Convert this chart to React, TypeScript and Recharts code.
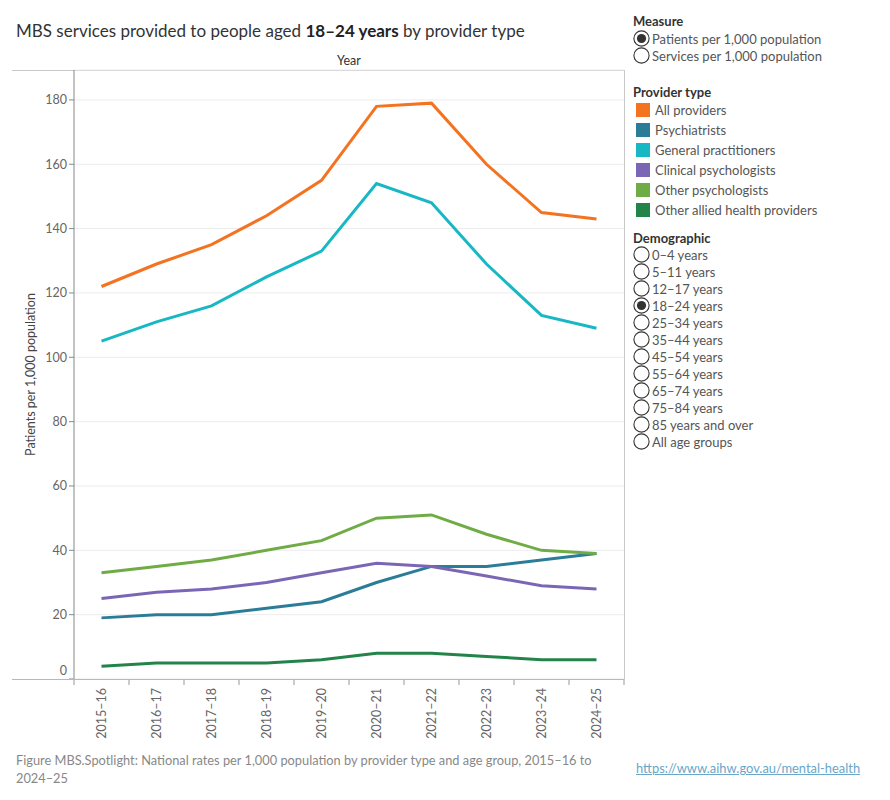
import React from "react";
import { LineChart, Line, XAxis, YAxis, CartesianGrid } from "recharts";

const years = [
  "2015–16", "2016–17", "2017–18", "2018–19", "2019–20",
  "2020–21", "2021–22", "2022–23", "2023–24", "2024–25",
];
const allProviders = [122, 129, 135, 144, 155, 178, 179, 160, 145, 143];
const psychiatrists = [19, 20, 20, 22, 24, 30, 35, 35, 37, 39];
const generalPractitioners = [105, 111, 116, 125, 133, 154, 148, 129, 113, 109];
const clinicalPsychologists = [25, 27, 28, 30, 33, 36, 35, 32, 29, 28];
const otherPsychologists = [33, 35, 37, 40, 43, 50, 51, 45, 40, 39];
const otherAllied = [4, 5, 5, 5, 6, 8, 8, 7, 6, 6];
const yTicks = [0, 20, 40, 60, 80, 100, 120, 140, 160, 180];

const measures = ["Patients per 1,000 population", "Services per 1,000 population"];
const demographics = [
  "0–4 years", "5–11 years", "12–17 years", "18–24 years", "25–34 years",
  "35–44 years", "45–54 years", "55–64 years", "65–74 years", "75–84 years",
  "85 years and over", "All age groups",
];

const series = [
  { key: "all", name: "All providers", color: "#f47321", values: allProviders },
  { key: "psy", name: "Psychiatrists", color: "#2b7d97", values: psychiatrists },
  { key: "gp", name: "General practitioners", color: "#17b8c4", values: generalPractitioners },
  { key: "clin", name: "Clinical psychologists", color: "#7b66b6", values: clinicalPsychologists },
  { key: "oth", name: "Other psychologists", color: "#6fac45", values: otherPsychologists },
  { key: "allied", name: "Other allied health providers", color: "#23844a", values: otherAllied },
];

const data = years.map((y, i) => {
  const row: Record<string, string | number> = { year: y };
  series.forEach((s) => (row[s.key] = s.values[i]));
  return row;
});

const FONT = "Lato, 'Open Sans', sans-serif";
const PLOT_LEFT = 74;
const PLOT_RIGHT = 624;
const PLOT_TOP = 70;
const PLOT_BOTTOM = 679;
const BAND = (PLOT_RIGHT - PLOT_LEFT) / years.length;

function XTick(props: any) {
  const { x, payload, index } = props;
  const left = x - BAND / 2;
  return (
    <g>
      <line x1={left} x2={left} y1={PLOT_BOTTOM} y2={PLOT_BOTTOM + 6} stroke="#999" />
      {index === years.length - 1 && (
        <line x1={x + BAND / 2} x2={x + BAND / 2} y1={PLOT_BOTTOM} y2={PLOT_BOTTOM + 6} stroke="#999" />
      )}
      <text
        x={x}
        y={PLOT_BOTTOM + 9}
        transform={`rotate(-90 ${x} ${PLOT_BOTTOM + 9})`}
        textAnchor="end"
        dominantBaseline="central"
        fontSize={12.5}
        fill="#666"
        fontFamily={FONT}
      >
        {payload.value}
      </text>
    </g>
  );
}

function YTick(props: any) {
  const { x, y, payload } = props;
  return (
    <text
      x={x}
      y={payload.value === 0 ? y - 9 : y}
      textAnchor="end"
      dominantBaseline="central"
      fontSize={12.5}
      fill="#666"
      fontFamily={FONT}
    >
      {payload.value}
    </text>
  );
}

function Radio({ checked }: { checked: boolean }) {
  return (
    <svg width={17} height={17} style={{ display: "block", flex: "none" }}>
      <circle cx={8.5} cy={8.5} r={7.6} fill="#fff" stroke="#333" strokeWidth={1.1} />
      {checked && <circle cx={8.5} cy={8.5} r={4.6} fill="#333" />}
    </svg>
  );
}

const headStyle: React.CSSProperties = {
  position: "absolute",
  left: 633,
  fontSize: 13,
  fontWeight: 700,
  color: "#333",
  fontFamily: FONT,
  lineHeight: "16px",
};
const itemText: React.CSSProperties = {
  fontSize: 13,
  color: "#555",
  fontFamily: FONT,
  marginLeft: 2,
  whiteSpace: "nowrap",
};

export default function App() {
  return (
    <div style={{ position: "absolute", left: 0, top: 0, width: 890, height: 800, background: "#fff", fontFamily: FONT }}>
      <div style={{ position: "absolute", left: 16, top: 20, fontSize: 17, color: "#333", whiteSpace: "nowrap" }}>
        MBS services provided to people aged <b style={{ color: "#222" }}>18–24 years</b> by provider type
      </div>
      <div style={{ position: "absolute", left: PLOT_LEFT, width: PLOT_RIGHT - PLOT_LEFT, top: 53, textAlign: "center", fontSize: 12.5, color: "#333" }}>
        Year
      </div>
      {/* frame */}
      <div style={{ position: "absolute", left: 12, top: PLOT_TOP, width: PLOT_RIGHT - 12, height: 1, background: "#c8c8c8" }} />
      <div style={{ position: "absolute", left: PLOT_RIGHT, top: PLOT_TOP, width: 1, height: PLOT_BOTTOM - PLOT_TOP, background: "#c8c8c8" }} />
      <div style={{ position: "absolute", left: 0, top: 0 }}>
        <LineChart
          width={640}
          height={760}
          data={data}
          margin={{ top: PLOT_TOP, right: 640 - PLOT_RIGHT, bottom: 0, left: 12 }}
        >
          <CartesianGrid horizontal vertical={false} stroke="#ececec" />
          <XAxis
            dataKey="year"
            scale="band"
            interval={0}
            height={760 - PLOT_BOTTOM}
            axisLine={false}
            tickLine={false}
            tick={<XTick />}
          />
          <YAxis
            width={PLOT_LEFT - 12}
            domain={[0, 189.3]}
            ticks={yTicks}
            interval={0}
            axisLine={{ stroke: "#888" }}
            tickLine={{ stroke: "#888" }}
            tickSize={5}
            tickMargin={2}
            tick={<YTick />}
            label={({ viewBox }: any) => (
              <text
                x={30}
                y={viewBox.y + viewBox.height / 2}
                transform={`rotate(-90 30 ${viewBox.y + viewBox.height / 2})`}
                textAnchor="middle"
                dominantBaseline="central"
                fontSize={12.5}
                fill="#444"
                fontFamily={FONT}
              >
                Patients per 1,000 population
              </text>
            )}
          />
          {series.map((s) => (
            <Line
              key={s.key}
              dataKey={s.key}
              name={s.name}
              stroke={s.color}
              strokeWidth={3}
              dot={false}
              activeDot={false}
              type="linear"
              isAnimationActive={false}
            />
          ))}
        </LineChart>
      </div>
      <div style={{ position: "absolute", left: 12, top: PLOT_BOTTOM, width: PLOT_RIGHT - 12, height: 1, background: "#b8b8b8" }} />

      {/* right panel */}
      <div style={{ ...headStyle, top: 13 }}>Measure</div>
      {measures.map((m, i) => (
        <div key={m} style={{ position: "absolute", left: 633, top: 30 + i * 17, display: "flex", alignItems: "center", height: 17 }}>
          <Radio checked={i === 0} />
          <span style={itemText}>{m}</span>
        </div>
      ))}
      <div style={{ ...headStyle, top: 84 }}>Provider type</div>
      {series.map((s, i) => (
        <div key={s.key} style={{ position: "absolute", left: 636, top: 103 + i * 20, display: "flex", alignItems: "center", height: 14 }}>
          <div style={{ width: 14, height: 14, background: s.color }} />
          <span style={{ ...itemText, marginLeft: 5 }}>{s.name}</span>
        </div>
      ))}
      <div style={{ ...headStyle, top: 230 }}>Demographic</div>
      {demographics.map((d, i) => (
        <div key={d} style={{ position: "absolute", left: 633, top: 246 + i * 17, display: "flex", alignItems: "center", height: 17 }}>
          <Radio checked={i === 3} />
          <span style={itemText}>{d}</span>
        </div>
      ))}

      {/* footer */}
      <div style={{ position: "absolute", left: 16, top: 751, fontSize: 12.8, color: "#888", lineHeight: "18px", whiteSpace: "nowrap" }}>
        Figure MBS.Spotlight: National rates per 1,000 population by provider type and age group, 2015–16 to
        <br />
        2024–25
      </div>
      <div style={{ position: "absolute", left: 636, top: 760, fontSize: 12.9, color: "#6aa6c8", textDecoration: "underline", whiteSpace: "nowrap" }}>
        https://www.aihw.gov.au/mental-health
      </div>
    </div>
  );
}
